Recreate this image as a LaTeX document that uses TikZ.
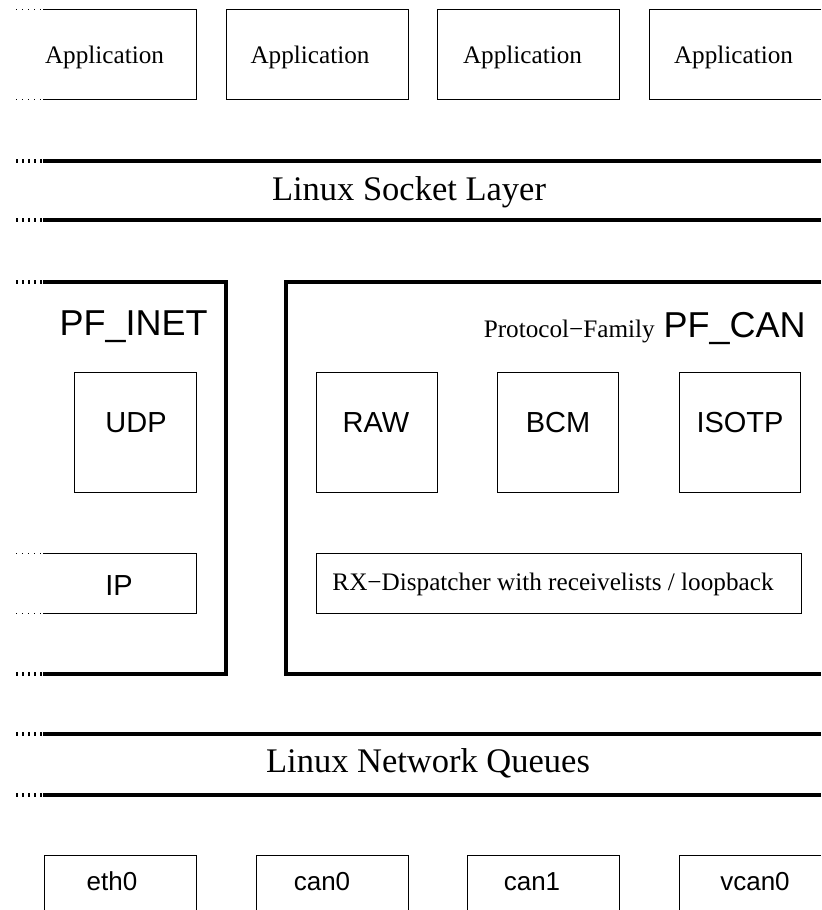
\documentclass[tikz,border=0pt]{standalone}
\usepackage{fontspec}
\setmainfont{Liberation Serif}
\newfontfamily\helv{Liberation Sans}

\begin{document}
\begin{tikzpicture}[x = 0.5pt, y = -0.5pt,
  thinline/.style = {line width = 0.5pt},
  layerline/.style = {line width = 2pt},
  contdots/.style = {line width = 0.5pt, dash pattern = on 0.5pt off 2.5pt},
  thickdots/.style = {line width = 2pt, dash pattern = on 1pt off 2pt},
  seriftext/.style = {inner sep = 0pt, anchor = base, font = \fontsize{12.6}{14}\selectfont},
  layertext/.style = {inner sep = 0pt, anchor = base, font = \fontsize{17.25}{20}\selectfont},
  sanstext/.style = {inner sep = 0pt, anchor = base, font = \helv\fontsize{14.5}{17}\selectfont},
  devtext/.style = {sanstext, font = \helv\fontsize{13}{15}\selectfont},
  familytext/.style = {inner sep = 0pt, anchor = base east, font = \helv\fontsize{18}{21}\selectfont}]
\useasboundingbox (0, 0) rectangle (821, 910);

% applications
\draw [contdots] (16, 9) -- (43, 9);
\draw [contdots] (16, 99) -- (43, 99);
\draw [thinline] (43, 9) -| (196, 99) -- (43, 99);
\foreach \l in {226, 437}
  \draw [thinline] (\l, 9) rectangle ++(182, 90);
\draw [thinline] (821, 9) -| (649, 99) -- (821, 99);
\node [seriftext] (app1) at (104.5, 63) {Application};
\node [seriftext] (app2) at (310, 63) {Application};
\node [seriftext] (app3) at (522.5, 63) {Application};
\node [seriftext] (app4) at (733.5, 63) {Application};

% socket layer
\draw [thickdots] (16, 161) -- (43, 161);
\draw [thickdots] (16, 220) -- (43, 220);
\draw [layerline] (43, 161) -- (821, 161);
\draw [layerline] (43, 220) -- (821, 220);
\node [layertext] (socket) at (409, 200) {Linux Socket Layer};

% PF_INET
\draw [thickdots] (16, 282) -- (43, 282);
\draw [thickdots] (16, 674) -- (43, 674);
\draw [layerline] (43, 282) -| (226, 674) -- (43, 674);
\node [familytext] (pfinet) at (208, 335) {PF\_INET};
\draw [thinline] (74, 372) rectangle (196, 492);
\node [sanstext] (udp) at (136, 432) {UDP};
\draw [contdots] (16, 553) -- (43, 553);
\draw [contdots] (16, 613) -- (43, 613);
\draw [thinline] (43, 553) -| (196, 613) -- (43, 613);
\node [sanstext] (ip) at (119, 595) {IP};

% PF_CAN
\draw [layerline] (821, 282) -| (286, 674) -- (821, 674);
\node [familytext] (pfcan) at (806, 337) {PF\_CAN};
\node [seriftext, anchor = base east] (protofam) at ([xshift = -4] pfcan.base west) {Protocol−Family};
\draw [thinline] (316, 372) rectangle (437, 492);
\draw [thinline] (497, 372) rectangle (618, 492);
\draw [thinline] (679, 372) rectangle (800, 492);
\node [sanstext] (raw) at (376, 432) {RAW};
\node [sanstext] (bcm) at (558, 432) {BCM};
\node [sanstext] (isotp) at (740, 432) {ISOTP};
\draw [thinline] (316, 553) rectangle (801, 613);
\node [seriftext] (rxdisp) at (553, 590) {RX−Dispatcher with receivelists / loopback};

% network queues
\draw [thickdots] (16, 734) -- (43, 734);
\draw [thickdots] (16, 795) -- (43, 795);
\draw [layerline] (43, 734) -- (821, 734);
\draw [layerline] (43, 795) -- (821, 795);
\node [layertext] (queues) at (428, 772) {Linux Network Queues};

% devices
\foreach \l in {44, 256, 467}
  \draw [thinline] (\l, 910) |- (\l + 152, 855) -- (\l + 152, 910);
\draw [thinline] (679, 910) |- (821, 855);
\node [devtext] (eth0) at (112, 890) {eth0};
\node [devtext] (can0) at (322, 890) {can0};
\node [devtext] (can1) at (532, 890) {can1};
\node [devtext] (vcan0) at (755, 890) {vcan0};
\end{tikzpicture}
\end{document}
